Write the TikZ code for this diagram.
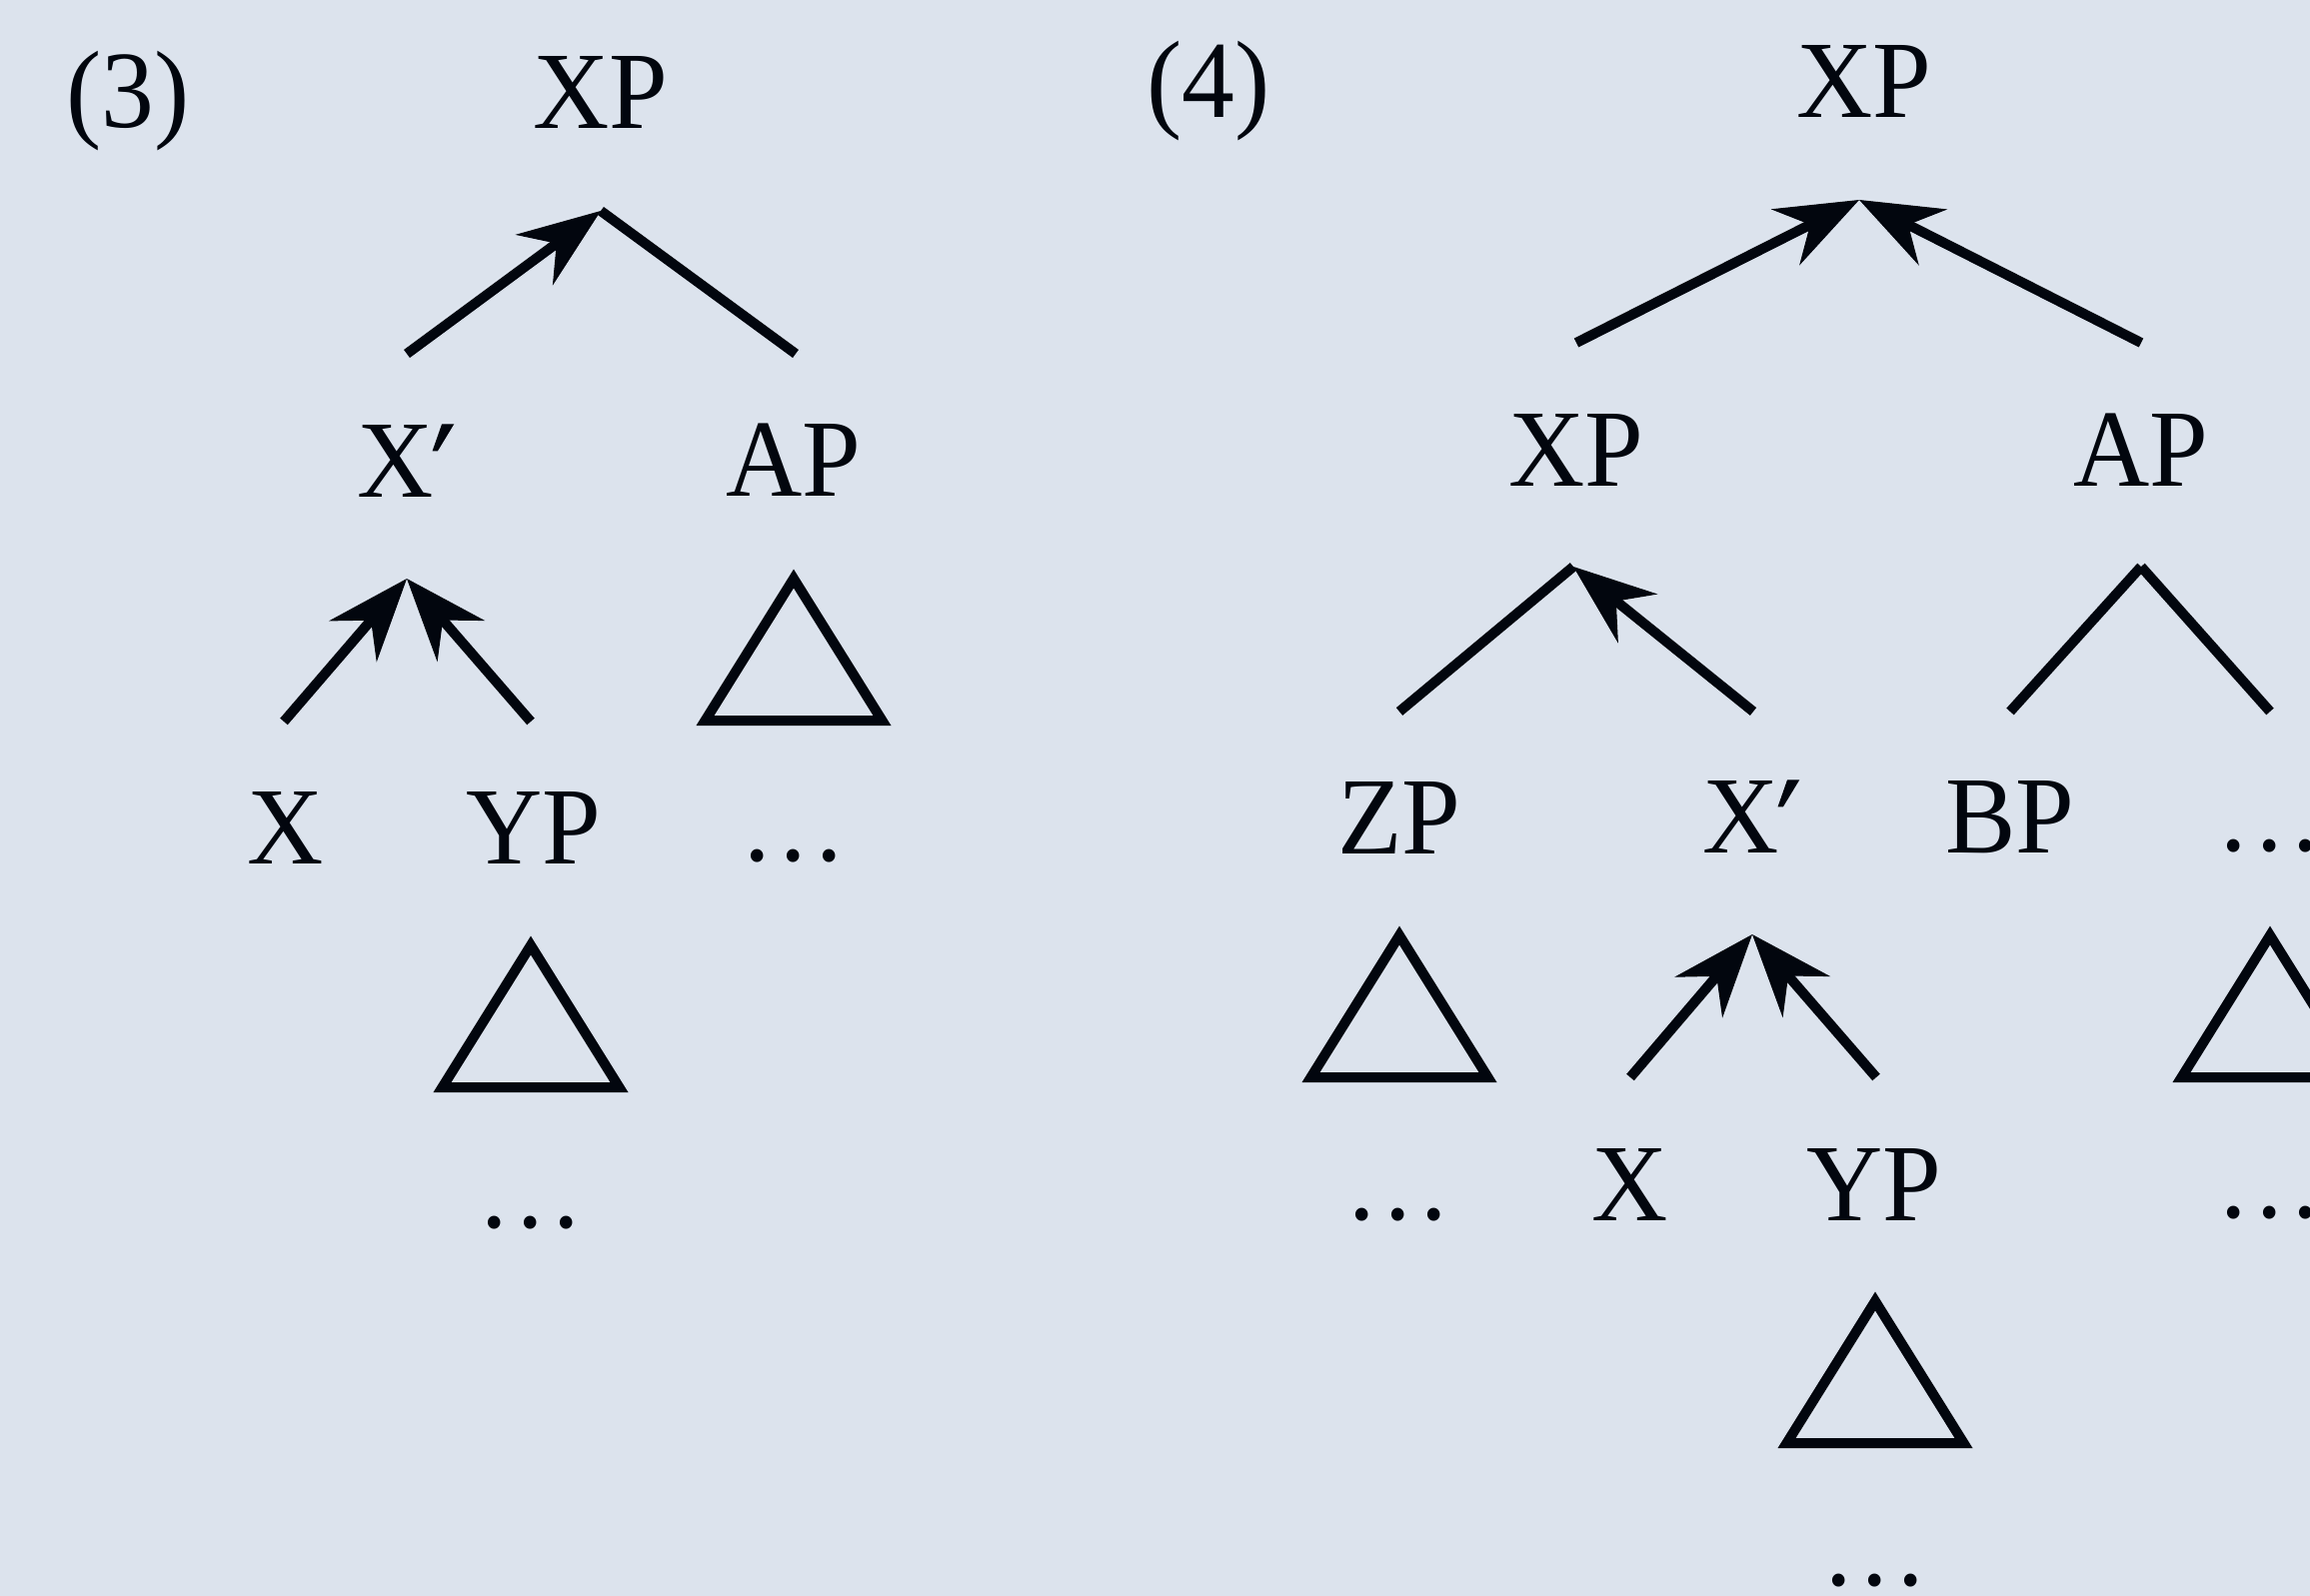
\documentclass[tikz,border=0pt]{standalone}
\usepackage{fontspec}
\setmainfont{Liberation Serif}[FakeStretch=0.96]
\newfontfamily\primefont{Liberation Serif}[FakeSlant=0.25, FakeBold=1.2]
\usetikzlibrary{arrows.meta}
\definecolor{bg}{RGB}{220,227,237}
\definecolor{ink}{RGB}{2,6,14}
\newcommand{\dts}{.\kern9.5pt.\kern9.5pt.}
\newcommand{\xbar}{X{\primefont\kern-17pt ′}}
\begin{document}
\begin{tikzpicture}[x=1pt,y=-1pt,
  lab/.style={inner sep=0pt, text=ink, font=\fontsize{110}{120}\selectfont},
  edge/.style={draw=ink, line width=10pt},
  arr/.style={edge, -{Stealth[length=83pt,width=63pt,inset=28pt,line width=1pt]}},
  tri/.style={draw=ink, line width=10pt, line join=miter}]
\fill[bg] (0,0) rectangle (2311,1597);
\useasboundingbox (0,0) rectangle (2311,1597);

% ---------- tree (3) ----------
\node[lab] (lbl3) at (128,101) {(3)};
\node[lab] (xp3) at (601,92) {XP};
\node[lab, anchor=base west] (xbar3) at (357,497) {\xbar};
\node[lab] (ap3) at (794,460) {AP};
\node[lab] (x3) at (286,828) {X};
\node[lab] (yp3) at (534,828) {YP};
\node[lab] (dots3a) at (794,857) {\dts};
\node[lab] (dots3b) at (531,1224) {\dts};

\coordinate (t3a) at (601,211);
\coordinate (t3l) at (407,354);
\coordinate (t3r) at (796,354);
\coordinate (m3a) at (407,579);
\coordinate (m3l) at (284,722);
\coordinate (m3r) at (531,722);

\draw[arr] (t3l) -- (t3a);
\draw[edge] (t3r) -- (t3a);
\draw[arr] (m3l) -- (m3a);
\draw[arr] (m3r) -- (m3a);

\draw[tri] (794,579) -- ++(-88.5,142) -- ++(177,0) -- cycle;
\draw[tri] (531,946) -- ++(-88.5,142) -- ++(177,0) -- cycle;

% ---------- tree (4) ----------
\node[lab] (lbl4) at (1209,91) {(4)};
\node[lab] (xp4) at (1865,81) {XP};
\node[lab] (xp4b) at (1577,450) {XP};
\node[lab] (ap4) at (2142,450) {AP};
\node[lab] (zp4) at (1400,818) {ZP};
\node[lab, anchor=base west] (xbar4) at (1703,853) {\xbar};
\node[lab] (bp4) at (2011,818) {BP};
\node[lab] (dots4a) at (2271,847) {\dts};
\node[lab] (x4) at (1631,1185) {X};
\node[lab] (yp4) at (1875,1185) {YP};
\node[lab] (dots4b) at (1399,1216) {\dts};
\node[lab] (dots4c) at (2271,1214) {\dts};
\node[lab] (dots4d) at (1876,1582) {\dts};

\coordinate (t4a) at (1860,200);
\coordinate (t4l) at (1577,343);
\coordinate (t4r) at (2142,343);
\coordinate (m4a) at (1574,567);
\coordinate (m4l) at (1400,712);
\coordinate (m4r) at (1754,712);
\coordinate (n4a) at (2142,567);
\coordinate (n4l) at (2011,712);
\coordinate (n4r) at (2271,712);
\coordinate (b4a) at (1753,935);
\coordinate (b4l) at (1631,1078);
\coordinate (b4r) at (1877,1078);

\draw[arr] (t4l) -- (t4a);
\draw[arr] (t4r) -- (t4a);
\draw[edge] (m4l) -- (m4a);
\draw[arr] (m4r) -- (m4a);
\draw[edge] (n4l) -- (n4a);
\draw[edge] (n4r) -- (n4a);
\draw[arr] (b4l) -- (b4a);
\draw[arr] (b4r) -- (b4a);

\draw[tri] (1400,936) -- ++(-88.5,142) -- ++(177,0) -- cycle;
\draw[tri] (2271,936) -- ++(-88.5,142) -- ++(177,0) -- cycle;
\draw[tri] (1876,1302) -- ++(-88.5,142) -- ++(177,0) -- cycle;
\end{tikzpicture}
\end{document}
